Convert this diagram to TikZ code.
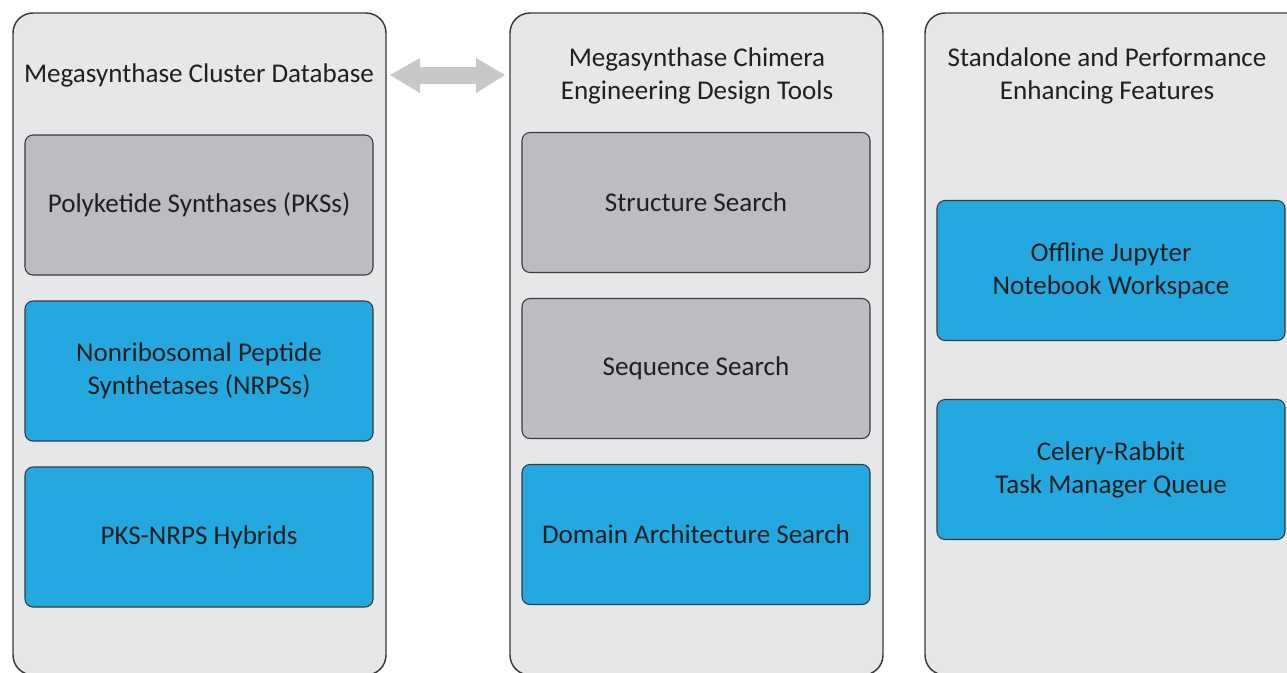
\documentclass[tikz,border=0pt]{standalone}
\usepackage{fontspec}
\setmainfont{Carlito}
\definecolor{panelfill}{HTML}{E6E7E8}
\definecolor{grayfill}{HTML}{BCBDC0}
\definecolor{bluefill}{HTML}{23A8E0}
\definecolor{arrowgray}{HTML}{C7C8CA}
\definecolor{edge}{HTML}{3A3A3C}
\definecolor{txt}{HTML}{231F20}
\begin{document}
\begin{tikzpicture}[x=0.75pt,y=-0.75pt,
  panel/.style={draw=edge,line width=1.1pt,fill=panelfill,rounded corners=15pt},
  box/.style={draw=edge,line width=0.8pt,rounded corners=6pt,minimum width=348*0.75pt,minimum height=140*0.75pt,align=center,inner sep=0pt,font=\fontsize{20.3}{24.75}\selectfont,text=txt},
  graybox/.style={box,fill=grayfill},
  bluebox/.style={box,fill=bluefill},
  title/.style={align=center,font=\fontsize{20.3}{24.75}\selectfont,text=txt}]
\clip (0,0) rectangle (1287,672);
\fill[white] (0,0) rectangle (1287,672);
% panels
\draw[panel] (13,13) rectangle (386,675);
\draw[panel] (510,13) rectangle (883,675);
\draw[panel] (925,13) rectangle (1310,675);
% titles
\node[title] (t1) at (199,75) {Megasynthase Cluster Database};
\node[title] (t2) at (697,75.5) {Megasynthase Chimera\\Engineering Design Tools};
\node[title] (t3) at (1107,75.5) {Standalone and Performance\\Enhancing Features};
% column 1
\node[graybox] (pks) at (199,205) {Polyketide Synthases (PKSs)};
\node[bluebox] (nrps) at (199,371) {Nonribosomal Peptide\\Synthetases (NRPSs)};
\node[bluebox] (hyb) at (199,537) {PKS-NRPS Hybrids};
% column 2
\node[graybox] (ss) at (696,202.5) {Structure Search};
\node[graybox] (seq) at (696,368.5) {Sequence Search};
\node[bluebox] (das) at (696,534.5) {Domain Architecture Search};
% column 3
\node[bluebox] (jup) at (1111,270.5) {Offline Jupyter\\Notebook Workspace};
\node[bluebox] (cel) at (1111,469.5) {Celery-Rabbit\\Task Manager Queue};
% double arrow
\coordinate (al) at (390,75);
\coordinate (ar) at (505,75);
\fill[arrowgray] (al) -- ++(30,-17) -- ++(0,9) -- ++(56,0) -- ++(0,-9) -- (ar)
  -- ++(-29,18) -- ++(0,-9) -- ++(-56,0) -- ++(0,9) -- cycle;
\end{tikzpicture}
\end{document}
